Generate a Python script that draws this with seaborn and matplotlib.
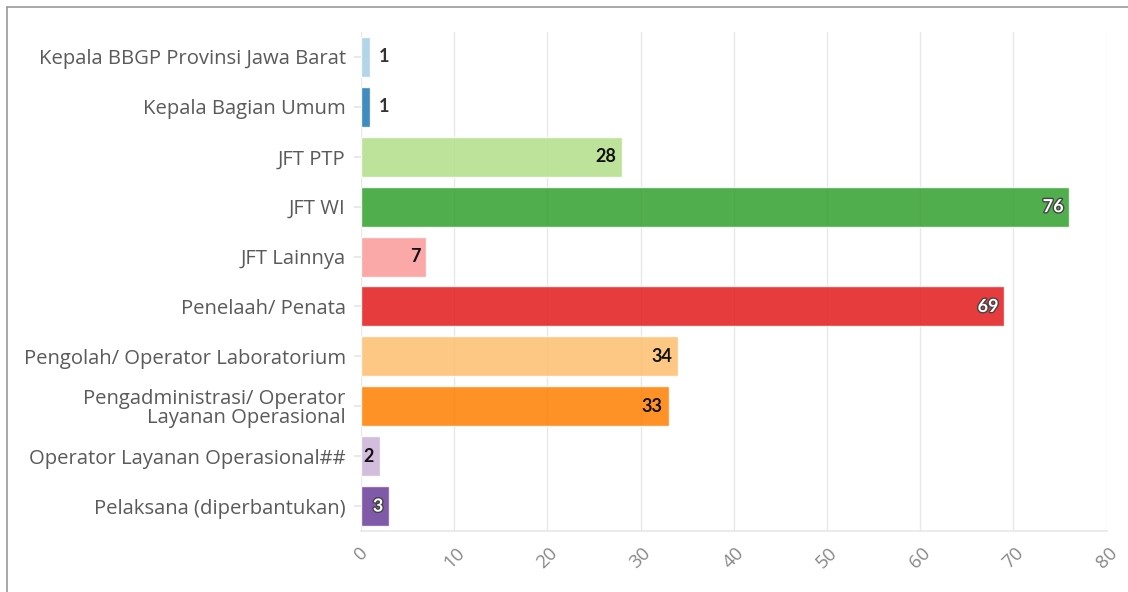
import matplotlib
matplotlib.use("Agg")
import matplotlib.pyplot as plt
import matplotlib.patheffects as pe
import seaborn as sns
import pandas as pd

categories = [
    "Kepala BBGP Provinsi Jawa Barat",
    "Kepala Bagian Umum",
    "JFT PTP",
    "JFT WI",
    "JFT Lainnya",
    "Penelaah/ Penata",
    "Pengolah/ Operator Laboratorium",
    "Pengadministrasi/ Operator\nLayanan Operasional",
    "Operator Layanan Operasional##",
    "Pelaksana (diperbantukan)",
]
values = [1, 1, 28, 76, 7, 69, 34, 33, 2, 3]
colors = ["#a6cee3", "#1f78b4", "#b2df8a", "#33a02c", "#fb9a99",
          "#e31a1c", "#fdbf6f", "#ff7f00", "#cab2d6", "#6a3d9a"]
label_colors = ["#333333", "#333333", "#111111", "white", "#111111",
                "white", "#111111", "#111111", "#111111", "white"]
x_ticks = [0, 10, 20, 30, 40, 50, 60, 70, 80]

sns.set_theme(style="white")
plt.rcParams["font.family"] = ["Open Sans", "DejaVu Sans"]

df = pd.DataFrame({"category": categories, "value": values})

fig = plt.figure(figsize=(11.28, 5.92), dpi=100)
ax = fig.add_axes([0.320, 0.103, 0.661, 0.843])

sns.barplot(data=df, x="value", y="category", hue="category",
            palette=colors, orient="h", width=0.8, alpha=0.85,
            legend=False, ax=ax, saturation=1)

ax.set_xlim(0, 80)
ax.set_xticks(x_ticks)
ax.set_xticklabels([str(t) for t in x_ticks], rotation=45, color="#888888",
                   fontsize=13.5, ha="center")
ax.tick_params(axis="x", length=0, pad=9)
ax.tick_params(axis="y", length=5, color="#e6e6e6", labelcolor="#5a5a5a",
               labelsize=14.6, pad=6, left=True)
for lbl in ax.get_yticklabels():
    lbl.set_linespacing(0.92)
ax.set_xlabel("")
ax.set_ylabel("")
ax.grid(axis="x", color="#e8e8e8", linewidth=1)
ax.set_axisbelow(True)
for s in ["top", "right", "left"]:
    ax.spines[s].set_visible(False)
ax.spines["bottom"].set_color("#e8e8e8")

for i, (v, c) in enumerate(zip(values, label_colors)):
    if v <= 1:
        t = ax.text(v + 0.9, i, str(v), ha="left", va="center",
                    fontsize=13, fontweight="bold", color=c, family="Lato")
    else:
        t = ax.text(v - 0.6, i, str(v), ha="right", va="center",
                    fontsize=13, fontweight="bold", color=c, family="Lato")
        if c == "white":
            t.set_path_effects([pe.withStroke(linewidth=2, foreground="#444444")])

# outer frame (left and top edges)
fig.add_artist(plt.Line2D([0.0062, 0.0062], [0, 0.988], color="#999999",
                          linewidth=1.2, transform=fig.transFigure))
fig.add_artist(plt.Line2D([0.0062, 1.0], [0.988, 0.988], color="#999999",
                          linewidth=1.2, transform=fig.transFigure))

fig.savefig("out.png", dpi=100, facecolor="white")
